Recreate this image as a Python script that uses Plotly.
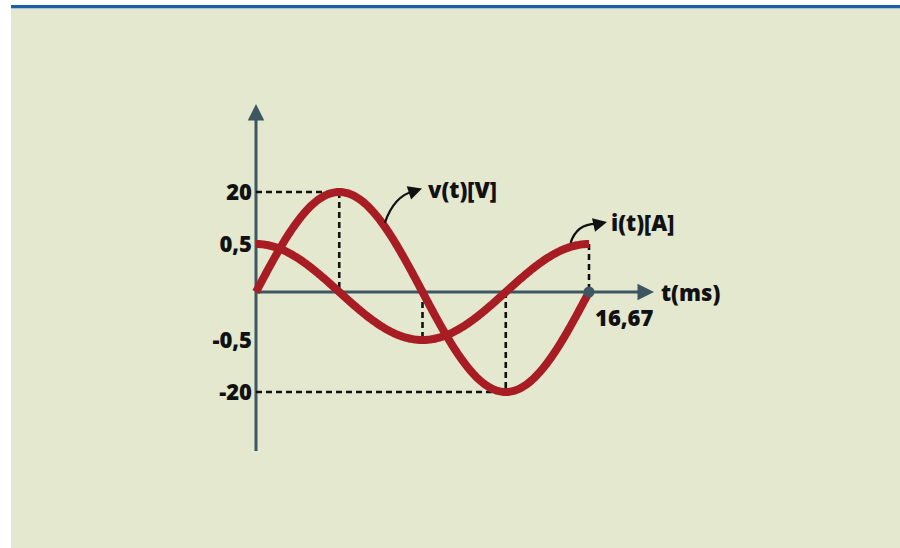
import numpy as np
import plotly.graph_objects as go

# ---- waveform data -------------------------------------------------------
PERIOD_MS = 16.67          # one full cycle (60 Hz)
V_AMPLITUDE = 20           # volts
I_AMPLITUDE = 0.5          # amperes
V_TICKS = [20, -20]
V_TICK_TEXT = ["20", "-20"]
I_TICKS = [0.5, -0.5]
I_TICK_TEXT = ["0,5", "-0,5"]
T_MARK = 16.67
T_MARK_TEXT = "16,67"
V_LABEL = "v(t)[V]"
I_LABEL = "i(t)[A]"
T_LABEL = "t(ms)"

t = np.linspace(0, PERIOD_MS, 301)
omega = 2 * np.pi / PERIOD_MS
v = V_AMPLITUDE * np.sin(omega * t)
i = I_AMPLITUDE * np.cos(omega * t)

# ---- canvas geometry -------------------------------------------------------
W, H = 900, 548
X0_PX, Y0_PX = 256, 292            # where t = 0, v = 0 sits on the canvas
PX_PER_MS = (589 - X0_PX) / PERIOD_MS
PX_PER_V = 5.0
PX_PER_A = 96.0

RED = "#a81d24"
AXIS = "#3d5762"
PANEL = "#e4e8cf"
BLUE = "#1c5fa8"
INK = "#111111"
FONT = dict(family="Open Sans", size=22, color=INK, weight=800)


def tx(px):
    return (px - X0_PX) / PX_PER_MS


def vy(py):
    return (Y0_PX - py) / PX_PER_V


def v_at(tt):
    return V_AMPLITUDE * np.sin(omega * tt)


def i_at(tt):
    return I_AMPLITUDE * np.cos(omega * tt)


fig = go.Figure()

curve_line = dict(color=RED, width=8, simplify=False)
fig.add_trace(go.Scatter(x=t, y=v, mode="lines", yaxis="y",
                         line=curve_line, hoverinfo="skip"))
fig.add_trace(go.Scatter(x=t, y=i, mode="lines", yaxis="y2",
                         line=curve_line, hoverinfo="skip"))
fig.add_trace(go.Scatter(x=[T_MARK], y=[0], mode="markers", yaxis="y",
                         marker=dict(color=AXIS, size=11), hoverinfo="skip"))

shapes = []
# background panel and top stripe
shapes.append(dict(type="rect", xref="paper", yref="paper",
                   x0=11 / W, x1=1, y0=0, y1=(H - 8) / H,
                   fillcolor=PANEL, line=dict(width=0), layer="below"))
shapes.append(dict(type="rect", xref="paper", yref="paper",
                   x0=11 / W, x1=1, y0=(H - 8) / H, y1=(H - 5) / H,
                   fillcolor=BLUE, line=dict(width=0), layer="below"))
shapes.append(dict(type="rect", xref="paper", yref="paper",
                   x0=11 / W, x1=1, y0=(H - 9) / H, y1=(H - 8) / H,
                   fillcolor="#a9c0d6", line=dict(width=0), layer="below"))

# axes
shapes.append(dict(type="line", xref="x", yref="y", x0=0, x1=tx(642), y0=0, y1=0,
                   line=dict(color=AXIS, width=3), layer="below"))
shapes.append(dict(type="line", xref="x", yref="y", x0=0, x1=0, y0=vy(451), y1=vy(114),
                   line=dict(color=AXIS, width=3), layer="below"))

# dashed guides
dash = dict(color=INK, width=2.6, dash="6px,4px")
t_q = PERIOD_MS / 4
shapes += [
    dict(type="line", xref="x", yref="y", x0=0, x1=t_q, y0=V_AMPLITUDE, y1=V_AMPLITUDE, line=dash, layer="below"),
    dict(type="line", xref="x", yref="y", x0=t_q, x1=t_q, y0=V_AMPLITUDE, y1=0, line=dash, layer="below"),
    dict(type="line", xref="x", yref="y2", x0=2 * t_q, x1=2 * t_q, y0=0, y1=-I_AMPLITUDE, line=dash, layer="below"),
    dict(type="line", xref="x", yref="y", x0=3 * t_q, x1=3 * t_q, y0=0, y1=-V_AMPLITUDE, line=dash, layer="below"),
    dict(type="line", xref="x", yref="y", x0=0, x1=3 * t_q, y0=-V_AMPLITUDE, y1=-V_AMPLITUDE, line=dash, layer="below"),
    dict(type="line", xref="x", yref="y2", x0=T_MARK, x1=T_MARK, y0=I_AMPLITUDE, y1=0, line=dash, layer="below"),
]

# curved call-out pointers from the curves to their labels
def callout(t_start, y_start_px, ctrl_px, end_px):
    sx, sy = X0_PX + t_start * PX_PER_MS, y_start_px
    return dict(type="path", xref="x", yref="y",
                path=(f"M {tx(sx)},{vy(sy)} Q {tx(ctrl_px[0])},{vy(ctrl_px[1])} "
                      f"{tx(end_px[0])},{vy(end_px[1])}"),
                line=dict(color=INK, width=2.3))


tv = 6.45
v_start_px = Y0_PX - v_at(tv) * PX_PER_V - 4
shapes.append(callout(tv, v_start_px, (394, 196), (414, 191)))
ti = 15.75
i_start_px = Y0_PX - i_at(ti) * PX_PER_A - 4
shapes.append(callout(ti, i_start_px, (577, 223), (598, 224)))

annotations = []
# axis arrowheads
annotations.append(dict(x=tx(654), y=0, xref="x", yref="y", ax=-18, ay=0, text="",
                        showarrow=True, arrowhead=2, arrowsize=1.1, arrowwidth=3,
                        arrowcolor=AXIS))
annotations.append(dict(x=0, y=vy(104), xref="x", yref="y", ax=0, ay=18, text="",
                        showarrow=True, arrowhead=2, arrowsize=1.1, arrowwidth=3,
                        arrowcolor=AXIS))
# call-out arrowheads
annotations.append(dict(x=tx(422), y=vy(188.5), xref="x", yref="y", ax=-9, ay=3, text="",
                        showarrow=True, arrowhead=2, arrowsize=1.2, arrowwidth=2.3,
                        arrowcolor=INK))
annotations.append(dict(x=tx(607), y=vy(222), xref="x", yref="y", ax=-9, ay=2, text="",
                        showarrow=True, arrowhead=2, arrowsize=1.2, arrowwidth=2.3,
                        arrowcolor=INK))
# labels
annotations.append(dict(x=tx(426), y=vy(189), xref="x", yref="y", text=V_LABEL,
                        showarrow=False, xanchor="left", yanchor="middle", font=FONT))
annotations.append(dict(x=tx(609), y=vy(222), xref="x", yref="y", text=I_LABEL,
                        showarrow=False, xanchor="left", yanchor="middle", font=FONT))
annotations.append(dict(x=tx(659), y=0, xref="x", yref="y", text=T_LABEL,
                        showarrow=False, xanchor="left", yanchor="middle", font=FONT))
annotations.append(dict(x=T_MARK, y=0, xref="x", yref="y", text=T_MARK_TEXT,
                        showarrow=False, xanchor="left", yanchor="top",
                        xshift=4, yshift=-8, font=FONT))

x_range = [-X0_PX / PX_PER_MS, (W - X0_PX) / PX_PER_MS]
y_range = [-(H - Y0_PX) / PX_PER_V, Y0_PX / PX_PER_V]
y2_range = [-(H - Y0_PX) / PX_PER_A, Y0_PX / PX_PER_A]
axis_pos = X0_PX / W

fig.update_layout(
    width=W, height=H, autosize=False,
    margin=dict(l=0, r=0, t=0, b=0, pad=0),
    paper_bgcolor="white", plot_bgcolor="rgba(0,0,0,0)",
    showlegend=False,
    xaxis=dict(range=x_range, visible=False, fixedrange=True),
    yaxis=dict(range=y_range, anchor="free", position=axis_pos, side="left",
               tickvals=V_TICKS, ticktext=V_TICK_TEXT, ticks="",
               showgrid=False, zeroline=False, showline=False,
               ticklabelstandoff=4, tickfont=FONT, fixedrange=True),
    yaxis2=dict(range=y2_range, overlaying="y", anchor="free", position=axis_pos,
                side="left", tickvals=I_TICKS, ticktext=I_TICK_TEXT, ticks="",
                showgrid=False, zeroline=False, showline=False,
                ticklabelstandoff=4, tickfont=FONT, fixedrange=True),
    shapes=shapes,
    annotations=annotations,
)

fig.write_html("out.html")
